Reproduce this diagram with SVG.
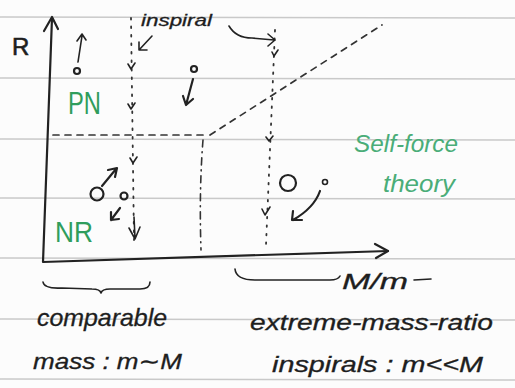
<svg xmlns="http://www.w3.org/2000/svg" width="515" height="388" viewBox="0 0 515 388">
<defs>
<style>
.ink{fill:none;stroke:#222;stroke-width:2.2;stroke-linecap:round;stroke-linejoin:round}
.thin{fill:none;stroke:#222;stroke-width:1.6;stroke-linecap:round;stroke-linejoin:round}
.dot{fill:none;stroke:#333;stroke-width:1.8;stroke-linecap:round;stroke-dasharray:1.5 7}
.dash{fill:none;stroke:#333;stroke-width:1.7;stroke-linecap:round;stroke-dasharray:6 6}
.dashdot{fill:none;stroke:#333;stroke-width:1.6;stroke-linecap:round;stroke-dasharray:7 5 1 5}
.rule{stroke:#c9c9c9;stroke-width:1.4}
.t{font-family:"Liberation Sans","DejaVu Sans",sans-serif;font-style:italic;fill:#1e1e1e;stroke:#1e1e1e;stroke-width:0.3}
.r{font-family:"Liberation Sans","DejaVu Sans",sans-serif;fill:#1e1e1e;stroke:#1e1e1e;stroke-width:0.6}
.g{font-family:"Liberation Sans","DejaVu Sans",sans-serif;fill:#2f9d5c}
.g2{font-family:"Liberation Sans","DejaVu Sans",sans-serif;font-style:italic;fill:#4aad78}
</style>
</defs>
<rect width="515" height="388" fill="#fcfcfc"/>
<g id="paper">
<line class="rule" x1="0" y1="17" x2="515" y2="18"/>
<line class="rule" x1="0" y1="78" x2="515" y2="79"/>
<line class="rule" x1="0" y1="139" x2="515" y2="140"/>
<line class="rule" x1="0" y1="198" x2="515" y2="199"/>
<line class="rule" x1="0" y1="258" x2="515" y2="259"/>
<line class="rule" x1="0" y1="319" x2="515" y2="320"/>
<line class="rule" x1="0" y1="379" x2="515" y2="380"/>
</g>
<g id="axes">
<path class="ink" d="M52 18 Q48 140 43 262 Q215 257 388 251"/>
<path class="ink" d="M44 31 L52 17 L58 29"/>
<path class="ink" d="M375 244 L388 251 L376 258"/>
<text class="r" x="12" y="55" font-size="24">R</text>
<text class="t" x="342" y="289" font-size="22" textLength="66" lengthAdjust="spacingAndGlyphs">M/m</text>
</g>
<g id="boundaries">
<path class="dash" d="M53 135 L208 135"/>
<path class="dash" d="M210 135 L382 25"/>
<path class="dashdot" d="M203 140 Q199 190 201 250"/>
</g>
<g id="inspiral-tracks">
<path class="dot" d="M131 18 L134 240"/>
<path class="thin" d="M128 64 L131 69 L135 63"/>
<path class="thin" d="M128 104 L131 109 L135 103"/>
<path class="thin" d="M130 158 L133 163 L137 157"/>
<path class="thin" d="M134 217 L135 238 M129 228 L135 239 L140 227"/>
<path class="dot" d="M275 30 L266 245"/>
<path class="thin" d="M272 52 L274 56 L278 50"/>
<path class="thin" d="M266 137 L269 141 L273 136"/>
<path class="thin" d="M262 209 L265 215 L270 207"/>
</g>
<g id="bodies">
<circle class="ink" cx="77" cy="71" r="3"/>
<circle class="ink" cx="194" cy="69" r="3"/>
<circle class="ink" cx="97" cy="194" r="6.5"/>
<circle class="ink" cx="124" cy="196" r="3.5"/>
<circle class="ink" cx="288" cy="183" r="8"/>
<circle class="thin" cx="325" cy="182" r="2.5"/>
</g>
<g id="connectors">
<path class="thin" d="M78 62 L82 36 M77 41 L82 34 L86 40"/>
<path class="ink" d="M193 79 L186 105 M183 96 L186 105 L193 99"/>
<path class="ink" d="M102 186 L116 169 M108 170 L117 168 L115 177"/>
<path class="ink" d="M120 208 L111 220 M111 212 L111 220 L119 219"/>
<path class="ink" d="M320 191 Q314 208 293 220 M293 211 L292 220 L302 220"/>
<path class="thin" d="M152 36 L139 50 M139 42 L139 50 L147 50"/>
<path class="thin" d="M229 26 Q236 38 252 38 L274 40 M268 34 L275 40 L268 46"/>
</g>
<g id="braces">
<path class="thin" d="M43 282 Q44 289 62 288 L92 289 Q100 289 101 293 Q102 289 110 289 L140 289 Q150 289 150 282"/>
<path class="thin" d="M235 269 Q236 280 255 280 L330 280 Q338 280 340 276"/>
<path class="thin" d="M414 280 L431 279"/>
</g>
<g id="labels">
<text class="t" x="141" y="26" font-size="17" textLength="71" lengthAdjust="spacingAndGlyphs">inspiral</text>
<text class="g" x="68" y="114" font-size="31" textLength="33" lengthAdjust="spacingAndGlyphs">PN</text>
<text class="g" x="55" y="242" font-size="29" textLength="38" lengthAdjust="spacingAndGlyphs">NR</text>
<text class="g2" x="354" y="152" font-size="24" textLength="104" lengthAdjust="spacingAndGlyphs">Self-force</text>
<text class="g2" x="383" y="192" font-size="24" textLength="72" lengthAdjust="spacingAndGlyphs">theory</text>
<text class="t" x="37" y="326" font-size="24" textLength="130" lengthAdjust="spacingAndGlyphs">comparable</text>
<text class="t" x="33" y="369" font-size="22" textLength="149" lengthAdjust="spacingAndGlyphs">mass : m∼M</text>
<text class="t" x="250" y="330" font-size="22" textLength="243" lengthAdjust="spacingAndGlyphs">extreme-mass-ratio</text>
<text class="t" x="272" y="372" font-size="22" textLength="211" lengthAdjust="spacingAndGlyphs">inspirals : m&lt;&lt;M</text>
</g>
</svg>
